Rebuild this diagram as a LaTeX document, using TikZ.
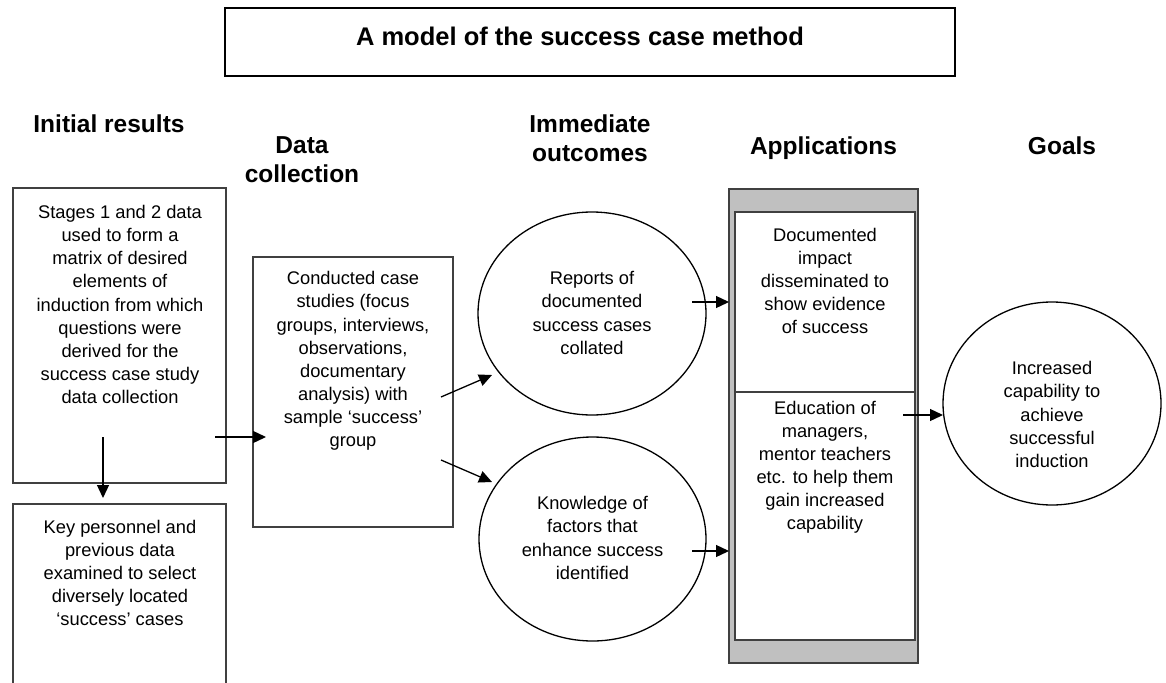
\documentclass[tikz,border=0pt]{standalone}
\usepackage{fontspec}
\setmainfont{Liberation Sans}
\usetikzlibrary{shapes.geometric,arrows.meta}
\definecolor{boxline}{HTML}{404040}
\definecolor{framegray}{HTML}{C0C0C0}
\tikzset{
  body/.style={font=\fontsize{18.3}{23.1}\selectfont, align=center, inner sep=0pt},
  head/.style={font=\fontsize{24.5}{29}\selectfont\bfseries, align=center, inner sep=0pt},
  rectbox/.style={draw=boxline, line width=1.3pt, inner sep=0pt, rectangle},
  oval/.style={draw=black, line width=1.3pt, ellipse, inner sep=0pt},
  arr/.style={-{Triangle[length=13pt,width=12pt]}, line width=1.3pt, draw=black},
}
\begin{document}
\begin{tikzpicture}[x=1pt,y=-1pt]
\useasboundingbox (0,0) rectangle (1166,682);
% title
\node[draw=black, line width=1.8pt, minimum width=730pt, minimum height=68pt, inner sep=0pt] (titlebox) at (590,42) {};
\node[font=\fontsize{25.5}{30}\selectfont\bfseries, inner sep=0pt] (title) at (580,36) {A model of the success case method};
% headers
\node[head] (h1) at (109,124) {Initial results};
\node[head] (h2) at (302,160) {Data\\collection};
\node[head] (h3) at (590,138) {Immediate\\outcomes};
\node[head] (h4) at (823.5,148) {Applications};
\node[head] (h5) at (1062,146) {Goals};
% column 1
\node[rectbox, minimum width=213pt, minimum height=295pt] (b1) at (119.5,335.5) {};
\node[body] (t1) at (120,304.5) {Stages 1 and 2 data\\used to form a\\matrix of desired\\elements of\\induction from which\\questions were\\derived for the\\success case study\\data collection};
\node[rectbox, minimum width=213pt, minimum height=190pt] (b2) at (119.5,599) {};
\node[body] (t2) at (120,573) {Key personnel and\\previous data\\examined to select\\diversely located\\‘success’ cases};
% column 2
\node[rectbox, minimum width=200pt, minimum height=270pt] (b3) at (353,392) {};
\node[body] (t3) at (353,361) {Conducted case\\studies (focus\\groups, interviews,\\observations,\\documentary\\analysis) with\\sample ‘success’\\group};
% column 3
\node[oval, minimum width=228pt, minimum height=203pt] (e1) at (592,313.5) {};
\node[body] (t4) at (592,313) {Reports of\\documented\\success cases\\collated};
\node[oval, minimum width=227pt, minimum height=204pt] (e2) at (592.5,539) {};
\node[body] (t5) at (592.5,538) {Knowledge of\\factors that\\enhance success\\identified};
% column 4
\node[rectbox, fill=framegray, minimum width=189pt, minimum height=474pt] (appout) at (823.5,426) {};
\node[rectbox, fill=white, minimum width=180pt, minimum height=428pt] (appin) at (825,426) {};
\coordinate (dl) at (735,392);
\coordinate (dr) at (915,392);
\draw[draw=boxline, line width=1.3pt] (dl) -- (dr);
\node[body] (t6) at (825,281) {Documented\\impact\\disseminated to\\show evidence\\of success};
\node[body] (t7) at (825,467.5) {Education of\\managers,\\mentor teachers\\etc. to help them\\gain increased\\capability};
% column 5
\node[oval, minimum width=218pt, minimum height=203pt] (goal) at (1052,403.5) {};
\node[body] (t8) at (1052,414.5) {Increased\\capability to\\achieve\\successful\\induction};
% connector ends
\coordinate (s1) at (215,437);  \coordinate (d1) at (266,437);
\coordinate (s2) at (103,437);  \coordinate (d2) at (103,498);
\coordinate (s3) at (441,397);  \coordinate (d3) at (492,375);
\coordinate (s4) at (441,460);  \coordinate (d4) at (492,482);
\coordinate (s5) at (692,302);  \coordinate (d5) at (729,302);
\coordinate (s6) at (692,551);  \coordinate (d6) at (729,551);
\coordinate (s7) at (903,415);  \coordinate (d7) at (943,415);
\draw[arr] (s1) -- (d1);
\draw[arr] (s2) -- (d2);
\draw[arr] (s3) -- (d3);
\draw[arr] (s4) -- (d4);
\draw[arr] (s5) -- (d5);
\draw[arr] (s6) -- (d6);
\draw[arr] (s7) -- (d7);
\end{tikzpicture}
\end{document}
